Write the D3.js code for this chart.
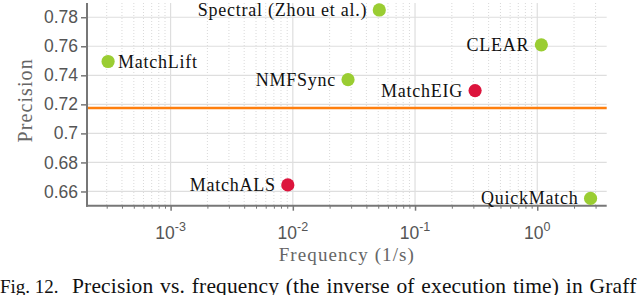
<!DOCTYPE html>
<html>
<head>
<meta charset="utf-8">
<script src="https://cdn.jsdelivr.net/npm/d3@7"></script>
<style>
  html, body { margin: 0; padding: 0; background: #fff; }
  svg { display: block; }
</style>
</head>
<body>
<svg id="chart" width="640" height="295"></svg>
<script>
// ---- data ----
const methods    = ["Spectral (Zhou et al.)", "CLEAR", "MatchLift", "NMFSync", "MatchEIG", "MatchALS", "QuickMatch"];
const frequency  = [0.051, 1.08, 0.000308, 0.0283, 0.31, 0.0091, 2.73];
const precision  = [0.785, 0.761, 0.7495, 0.737, 0.7295, 0.6645, 0.6552];
const group      = ["green", "green", "green", "green", "red", "red", "green"];
const baseline   = [0.7175];
const yTicks     = [0.66, 0.68, 0.70, 0.72, 0.74, 0.76, 0.78];
const yTickLabels = ["0.66", "0.68", "0.7", "0.72", "0.74", "0.76", "0.78"];
const xMajor     = [1e-3, 1e-2, 1e-1, 1e0];
const xMajorExp  = ["-3", "-2", "-1", "0"];
const xLabel = "Frequency (1/s)";
const yLabel = "Precision";
const captionLead = "Fig. 12.";
const captionText = "Precision vs. frequency (the inverse of execution time) in Graff";
const labelRight = new Set(["MatchLift"]);

// ---- layout ----
const svg = d3.select("#chart");
const M = { left: 87, right: 606.7, top: 3, bottom: 205.7 };
const colors = { green: "#9acd32", red: "#dc143c" };

const x = d3.scaleLog().domain([2.07e-4, 3.7]).range([M.left, M.right]);
const y = d3.scaleLinear().domain([0.6502, 0.7898]).range([M.bottom, M.top]);

// minor ticks
const xMinor = [];
for (let e = -4; e <= 0; e++) {
  for (let k = 2; k <= 9; k++) {
    const v = k * Math.pow(10, e);
    if (v >= x.domain()[0] && v <= x.domain()[1]) xMinor.push(v);
  }
}

const grid = svg.append("g");
grid.selectAll("line.minor").data(xMinor).join("line")
  .attr("x1", d => x(d)).attr("x2", d => x(d))
  .attr("y1", M.top).attr("y2", M.bottom)
  .attr("stroke", "#cfcfcf").attr("stroke-width", 0.8)
  .attr("stroke-dasharray", "1,2");
grid.selectAll("line.xmaj").data(xMajor).join("line")
  .attr("x1", d => x(d)).attr("x2", d => x(d))
  .attr("y1", M.top).attr("y2", M.bottom)
  .attr("stroke", "#dedede").attr("stroke-width", 1.2);
grid.selectAll("line.ymaj").data(yTicks).join("line")
  .attr("x1", M.left).attr("x2", M.right)
  .attr("y1", d => y(d)).attr("y2", d => y(d))
  .attr("stroke", "#dedede").attr("stroke-width", 1.2);

// baseline (orange)
svg.append("g").selectAll("line").data(baseline).join("line")
  .attr("x1", M.left).attr("x2", M.right)
  .attr("y1", d => y(d)).attr("y2", d => y(d))
  .attr("stroke", "#ff7f0e").attr("stroke-width", 2.6);

// y axis
const yAxis = d3.axisLeft(y).tickValues(yTicks)
  .tickFormat((d, i) => yTickLabels[i]).tickSize(6).tickPadding(3);
const gy = svg.append("g").attr("transform", `translate(${M.left},0)`).call(yAxis);
gy.select(".domain").remove();
gy.selectAll(".tick line").attr("stroke", "#777").attr("stroke-width", 1.5);
gy.selectAll(".tick text").attr("fill", "#555")
  .style("font-family", "'Liberation Sans', Arial, sans-serif").style("font-size", "17.5px");

// x axis: major
const xAxis = d3.axisBottom(x).tickValues(xMajor).tickFormat("").tickSize(5);
const gx = svg.append("g").attr("transform", `translate(0,${M.bottom})`).call(xAxis);
gx.select(".domain").remove();
gx.selectAll(".tick line").attr("stroke", "#777").attr("stroke-width", 1.5);
// x axis: minor
const xAxisMinor = d3.axisBottom(x).tickValues(xMinor).tickFormat("").tickSize(3);
const gxm = svg.append("g").attr("transform", `translate(0,${M.bottom})`).call(xAxisMinor);
gxm.select(".domain").remove();
gxm.selectAll(".tick line").attr("stroke", "#777").attr("stroke-width", 1);

// x tick labels with superscript
const xl = svg.append("g").selectAll("text").data(xMajor).join("text")
  .attr("x", d => x(d)).attr("y", 239)
  .attr("text-anchor", "middle").attr("fill", "#555")
  .style("font-family", "'Liberation Sans', Arial, sans-serif").style("font-size", "17.5px");
xl.append("tspan").text("10");
xl.append("tspan").attr("dy", -8).style("font-size", "12.5px").text((d, i) => xMajorExp[i]);

// axis lines
svg.append("line").attr("x1", M.left).attr("x2", M.left).attr("y1", M.top).attr("y2", M.bottom + 1)
  .attr("stroke", "#777").attr("stroke-width", 2);
svg.append("line").attr("x1", M.left - 1).attr("x2", M.right).attr("y1", M.bottom).attr("y2", M.bottom)
  .attr("stroke", "#777").attr("stroke-width", 2);

// points
const pts = methods.map((m, i) => ({ m, f: frequency[i], p: precision[i], g: group[i] }));
svg.append("g").selectAll("circle").data(pts).join("circle")
  .attr("cx", d => x(d.f)).attr("cy", d => y(d.p)).attr("r", 6.6)
  .attr("fill", d => colors[d.g]);

svg.append("g").selectAll("text").data(pts).join("text")
  .attr("x", d => x(d.f) + (labelRight.has(d.m) ? 10 : -12))
  .attr("y", d => y(d.p) + 6)
  .attr("text-anchor", d => labelRight.has(d.m) ? "start" : "end")
  .attr("fill", "#111")
  .style("font-family", "'Liberation Serif', 'Times New Roman', serif")
  .style("font-size", "18px").style("letter-spacing", "0.75px")
  .text(d => d.m);

// axis titles
svg.append("text").attr("x", (M.left + M.right) / 2).attr("y", 261)
  .attr("text-anchor", "middle").attr("fill", "#666")
  .style("font-family", "'Liberation Serif', 'Times New Roman', serif")
  .style("font-size", "19px").style("letter-spacing", "1.1px")
  .text(xLabel);
svg.append("text").attr("transform", `translate(31.5,${(M.top + M.bottom) / 2 - 4}) rotate(-90)`)
  .attr("text-anchor", "middle").attr("fill", "#666")
  .style("font-family", "'Liberation Serif', 'Times New Roman', serif")
  .style("font-size", "20px").style("letter-spacing", "1.1px")
  .text(yLabel);

// caption (cut by the bottom edge, as in the source figure)
const cap = svg.append("text").attr("y", 292.5).attr("fill", "#111")
  .style("font-family", "'Liberation Serif', 'Times New Roman', serif").style("font-size", "21.5px");
cap.append("tspan").attr("x", 0).style("font-size", "19px").text(captionLead);
cap.append("tspan").attr("x", 72).style("letter-spacing", "0.15px").style("word-spacing", "1.2px").text(captionText);
</script>
</body>
</html>
